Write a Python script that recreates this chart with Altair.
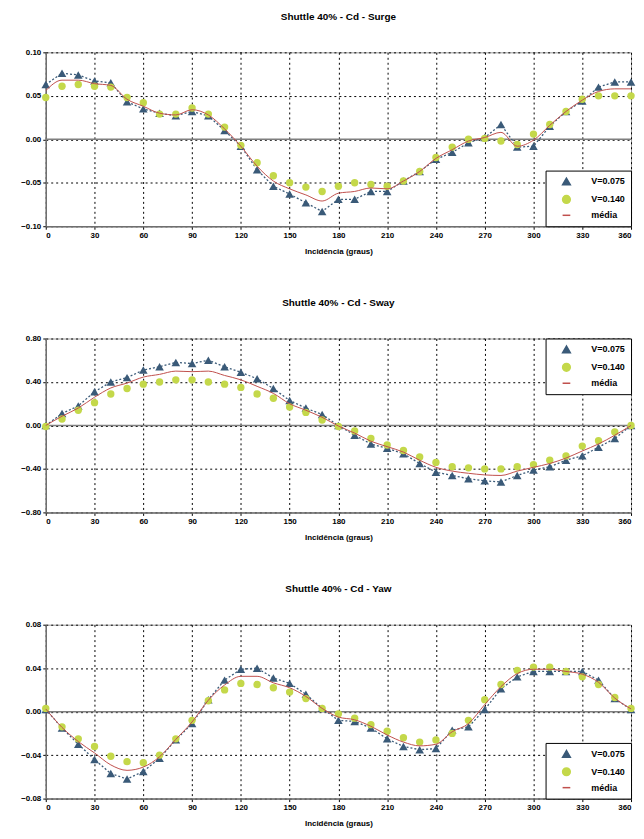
import altair as alt
import pandas as pd

deg = list(range(0, 361, 10))
series_names = ["V=0.075", "V=0.140", "média"]
series_colors = ["#3a5a78", "#c4d84a", "#c0504d"]

surge_v075 = [0.063, 0.076, 0.074, 0.067, 0.065, 0.043, 0.035, 0.030, 0.027, 0.032,
              0.027, 0.010, -0.008, -0.035, -0.054, -0.063, -0.073, -0.083, -0.069,
              -0.069, -0.060, -0.060, -0.048, -0.037, -0.023, -0.015, -0.004, 0.002,
              0.017, -0.009, -0.008, 0.015, 0.032, 0.044, 0.060, 0.066, 0.066]
surge_v140 = [0.048, 0.061, 0.063, 0.061, 0.060, 0.048, 0.042, 0.029, 0.029, 0.036,
              0.029, 0.014, -0.007, -0.027, -0.042, -0.050, -0.055, -0.060, -0.054,
              -0.050, -0.052, -0.054, -0.048, -0.037, -0.021, -0.009, 0.000, 0.001,
              -0.002, -0.006, 0.006, 0.017, 0.032, 0.046, 0.050, 0.050, 0.050]
surge_media = [0.056, 0.068, 0.068, 0.064, 0.062, 0.046, 0.038, 0.030, 0.028, 0.034,
               0.028, 0.012, -0.008, -0.031, -0.048, -0.057, -0.064, -0.071, -0.062,
               -0.060, -0.056, -0.057, -0.048, -0.037, -0.022, -0.012, -0.002, 0.002,
               0.008, -0.008, -0.001, 0.016, 0.032, 0.045, 0.055, 0.058, 0.058]

sway_v075 = [0.0, 0.11, 0.18, 0.31, 0.40, 0.44, 0.51, 0.54, 0.58, 0.57,
             0.60, 0.54, 0.49, 0.43, 0.34, 0.23, 0.16, 0.10, 0.00,
             -0.09, -0.17, -0.21, -0.26, -0.35, -0.43, -0.46, -0.49, -0.51,
             -0.52, -0.46, -0.41, -0.38, -0.32, -0.28, -0.20, -0.12, 0.0]
sway_v140 = [-0.01, 0.06, 0.14, 0.21, 0.29, 0.34, 0.38, 0.40, 0.42, 0.42,
             0.40, 0.38, 0.35, 0.29, 0.25, 0.17, 0.12, 0.05, -0.01,
             -0.05, -0.12, -0.18, -0.23, -0.29, -0.34, -0.38, -0.39, -0.40,
             -0.40, -0.38, -0.36, -0.32, -0.28, -0.19, -0.14, -0.06, 0.0]
sway_media = [0.0, 0.085, 0.16, 0.26, 0.345, 0.39, 0.445, 0.47, 0.50, 0.495,
              0.50, 0.46, 0.42, 0.36, 0.295, 0.20, 0.14, 0.075, -0.005,
              -0.07, -0.145, -0.195, -0.245, -0.32, -0.385, -0.42, -0.44, -0.455,
              -0.46, -0.42, -0.385, -0.35, -0.30, -0.235, -0.17, -0.09, 0.0]

yaw_v075 = [0.002, -0.015, -0.030, -0.044, -0.057, -0.062, -0.055, -0.043, -0.026, -0.011,
            0.011, 0.029, 0.039, 0.040, 0.031, 0.026, 0.016, 0.003, -0.008,
            -0.009, -0.015, -0.025, -0.032, -0.035, -0.034, -0.017, -0.014, 0.002,
            0.021, 0.032, 0.037, 0.037, 0.037, 0.037, 0.029, 0.012, 0.002]
yaw_v140 = [0.003, -0.014, -0.025, -0.032, -0.041, -0.046, -0.047, -0.040, -0.025, -0.008,
            0.010, 0.020, 0.026, 0.025, 0.022, 0.018, 0.012, 0.003, -0.002,
            -0.006, -0.012, -0.018, -0.024, -0.028, -0.026, -0.020, -0.008, 0.011,
            0.025, 0.038, 0.041, 0.041, 0.037, 0.032, 0.025, 0.013, 0.003]
yaw_media = [0.0025, -0.0145, -0.0275, -0.038, -0.049, -0.054, -0.051, -0.0415, -0.0255, -0.0095,
             0.0105, 0.0245, 0.0325, 0.0325, 0.0265, 0.022, 0.014, 0.003, -0.005,
             -0.0075, -0.0135, -0.0215, -0.028, -0.0315, -0.030, -0.0185, -0.011, 0.0065,
             0.023, 0.035, 0.039, 0.039, 0.037, 0.0345, 0.027, 0.0125, 0.0025]

x_ticks = list(range(0, 361, 30))

FONT = "Liberation Sans"


def panel(title, v075, v140, media, yticks, legend_orient):
    n = len(deg)
    df = pd.DataFrame({
        "deg": deg * 3,
        "val": v075 + v140 + media,
        "series": [series_names[0]] * n + [series_names[1]] * n + [series_names[2]] * n,
    })
    base = alt.Chart(df)
    x = alt.X("deg:Q", scale=alt.Scale(domain=[0, 360], nice=False),
              axis=alt.Axis(values=x_ticks, title="Incidência (graus)", format="d", labelFlush=True))
    y = alt.Y("val:Q", scale=alt.Scale(domain=[yticks[0], yticks[-1]], nice=False),
              axis=alt.Axis(values=yticks, title=None, format=".2f"))
    leg = alt.Legend(title=None, orient=legend_orient)
    color = alt.Color("series:N", scale=alt.Scale(domain=series_names, range=series_colors), legend=leg)
    shape = alt.Shape("series:N", scale=alt.Scale(domain=series_names, range=["triangle-up", "circle", "stroke"]), legend=leg)

    zero = alt.Chart(pd.DataFrame({"z": [0.0]})).mark_rule(color="#7f7f7f", strokeWidth=1.5).encode(y=alt.Y("z:Q"))
    dotted = base.transform_filter(alt.datum.series == "V=0.075").mark_line(
        color="#3a5a78", strokeDash=[2, 2], strokeWidth=1.3).encode(x=x, y=y)
    tri = base.transform_filter(alt.datum.series == "V=0.075").mark_point(
        filled=True, opacity=1, size=75).encode(x=x, y=y, color=color, shape=shape)
    circ = base.transform_filter(alt.datum.series == "V=0.140").mark_point(
        filled=True, opacity=1, size=55).encode(x=x, y=y, color=color, shape=shape)
    med = base.transform_filter(alt.datum.series == "média").mark_line(
        strokeWidth=1, interpolate="monotone").encode(x=x, y=y, color=color)
    return alt.layer(zero, dotted, tri, circ, med).properties(
        width=589, height=175,
        title=alt.TitleParams(title, fontSize=10, font=FONT, fontWeight="bold", offset=27),
    )


p1 = panel("Shuttle 40% - Cd - Surge", surge_v075, surge_v140, surge_media,
           [-0.10, -0.05, 0.0, 0.05, 0.10], "bottom-right")
p2 = panel("Shuttle 40% - Cd - Sway", sway_v075, sway_v140, sway_media,
           [-0.80, -0.40, 0.0, 0.40, 0.80], "top-right")
p3 = panel("Shuttle 40% - Cd - Yaw", yaw_v075, yaw_v140, yaw_media,
           [-0.08, -0.04, 0.0, 0.04, 0.08], "bottom-right")

chart = alt.vconcat(p1, p2, p3, spacing=41).resolve_scale(
    color="independent", shape="independent"
).resolve_legend(
    color="independent", shape="independent"
).properties(
    padding={"left": 0, "top": 0, "right": 0, "bottom": 0}
).configure_view(
    stroke="#9a9a9a", strokeWidth=1
).configure_axis(
    labelFont=FONT, labelFontWeight="bold", labelFontSize=8, labelColor="black",
    titleFont=FONT, titleFontWeight="bold", titleFontSize=8, titleColor="black",
    gridColor="black", gridDash=[2, 3], gridOpacity=1, gridWidth=1,
    domainColor="#6f6f6f", domainWidth=1.5, tickColor="black", tickSize=3,
    labelPadding=2, titlePadding=8
).configure_axisY(
    minExtent=37
).configure_legend(
    strokeColor="black", fillColor="white", padding=6, offset=0,
    labelFont=FONT, labelFontWeight="bold", labelFontSize=9, labelColor="black",
    symbolSize=60, symbolStrokeWidth=1.5, rowPadding=4, cornerRadius=0,
    symbolOffset=10, labelOffset=20
)

chart.save("out.html", embed_options={"renderer": "svg", "actions": False})
